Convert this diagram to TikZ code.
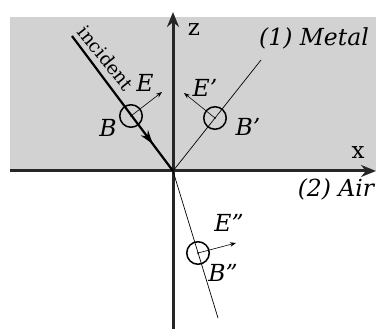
\documentclass[tikz,border=0pt]{standalone}
\usepackage{fontspec}
\setmainfont{DejaVu Serif}[Ligatures=ResetAll]
\usetikzlibrary{arrows.meta, decorations.markings}

\begin{document}
\begin{tikzpicture}[x=1pt, y=-1pt,
		>=Stealth,
		% Define styles
		axis/.style={line width=3pt, black!85, -{Stealth[length=15pt, width=12pt]}},
		ray/.style={line width=0.7pt},
		incray/.style={line width=2.2pt, postaction={decorate},
			decoration={markings, mark=at position 0.8 with {\arrow{Stealth[length=14pt, width=9pt]}}}},
		efield/.style={line width=0.6pt, -{Stealth[length=6pt, width=4.5pt]}},
		bfield/.style={circle, draw, line width=1.5pt, minimum size=22.5pt, inner sep=0pt},
		lbl/.style={font=\fontsize{23.5}{26}\selectfont\itshape, inner sep=0pt},
		axlbl/.style={font=\fontsize{23}{26}\selectfont, inner sep=0pt}
		]
		\useasboundingbox (0,0) rectangle (376,329);
		
		% 1. Metal half-space
		\fill[gray!35] (10,17) rectangle (376,171);
		
		% 2. Axes
		\coordinate (O) at (173,171);
		\coordinate (xend) at (376,171);
		\coordinate (xstart) at (10,171);
		\coordinate (zend) at (173,12);
		\coordinate (zstart) at (173,329);
		\draw[axis] (xstart) -- (xend);
		\draw[axis] (zstart) -- (zend);
		\node[axlbl] (zlabel) at (194,30) {z};
		\node[axlbl] (xlabel) at (358,153) {x};
		
		% 3. Media labels
		\node[lbl] (metal) at (314,38) {(1) Metal};
		\node[lbl] (air) at (336,189) {(2) Air};
		
		% 4. Incident wave
		\coordinate (inc) at (72,36);
		\draw[incray] (inc) -- (O);
		\node[font=\fontsize{18.5}{20}\selectfont, rotate=-51, inner sep=0pt] (inclabel) at (106,58) {incident};
		\node[bfield] (Bi) at (131,116) {};
		\coordinate (Ei) at (162,92);
		\draw[efield] (Bi.center) -- (Ei);
		\fill (Bi.center) circle (0.8pt);
		\node[lbl] (Eilabel) at (145,83) {E};
		\node[lbl] (Bilabel) at (108,128) {B};
		
		% 5. Reflected wave
		\coordinate (refl) at (261,60);
		\draw[ray] (O) -- (refl);
		\node[bfield] (Br) at (215,118) {};
		\coordinate (Er) at (184,93);
		\draw[efield] (Br.center) -- (Er);
		\fill (Br.center) circle (0.8pt);
		\node[lbl] (Erlabel) at (205,88) {E'};
		\node[lbl] (Brlabel) at (248,127) {B'};
		
		% 6. Transmitted wave
		\coordinate (trans) at (218,318);
		\draw[ray] (O) -- (trans);
		\node[bfield] (Bt) at (198,253) {};
		\coordinate (Et) at (236,243);
		\draw[efield] (Bt.center) -- (Et);
		\fill (Bt.center) circle (0.8pt);
		\node[lbl] (Etlabel) at (229,223) {E"};
		\node[lbl] (Btlabel) at (223,273) {B"};
		
	\end{tikzpicture}
\end{document}
